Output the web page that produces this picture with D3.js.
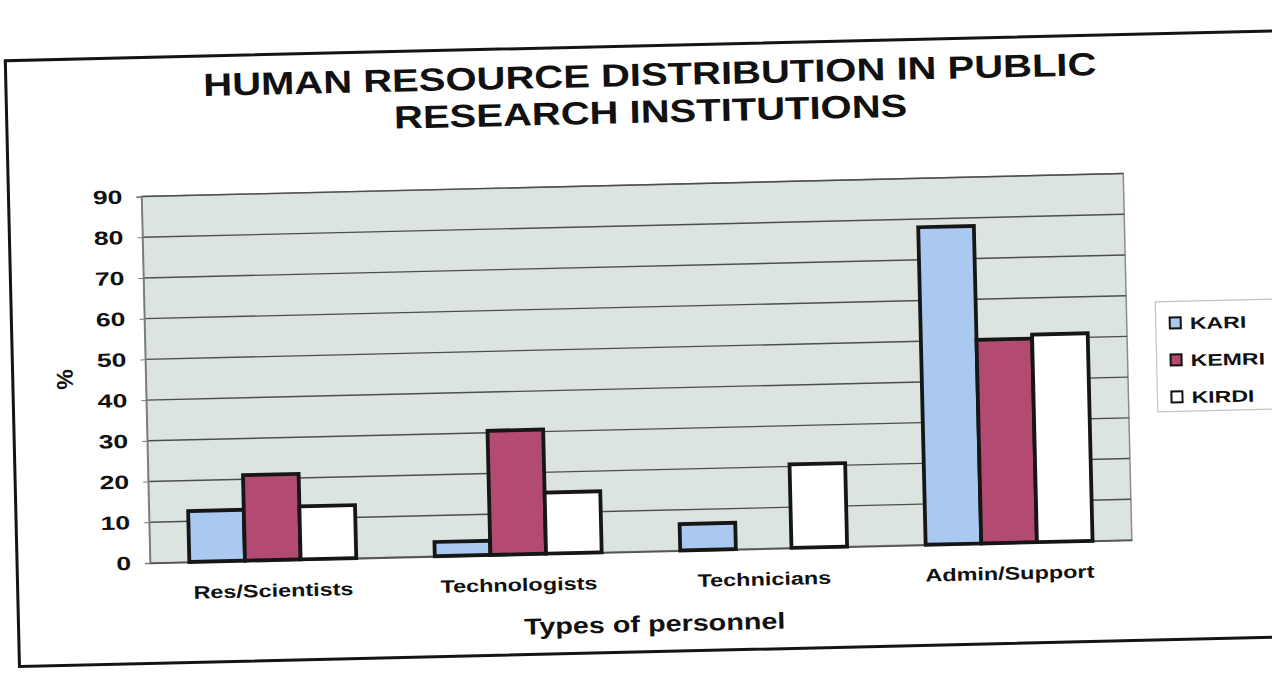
<!DOCTYPE html>
<html>
<head>
<meta charset="utf-8">
<script src="https://cdn.jsdelivr.net/npm/d3@7"></script>
<style>
  html, body { margin: 0; padding: 0; background: #ffffff; }
  svg { display: block; }
  text { font-family: "Liberation Sans", Arial, sans-serif; font-weight: bold; fill: #111; }
</style>
</head>
<body>
<svg id="chart" width="1272" height="680"></svg>
<script>
// Staff shares (%) by personnel type for each institution
const categories = ["Res/Scientists", "Technologists", "Technicians", "Admin/Support"];
const seriesNames = ["KARI", "KEMRI", "KIRDI"];
const kari  = [12.5, 3.5, 6.5, 78];
const kemri = [21, 30.5, 0, 50];
const kirdi = [13, 15, 20.5, 51];
const yTicks = [0, 10, 20, 30, 40, 50, 60, 70, 80, 90];
const seriesColors = ["#a9c9f0", "#b24a72", "#ffffff"];

const titleLines = ["HUMAN RESOURCE DISTRIBUTION IN PUBLIC", "RESEARCH INSTITUTIONS"];
const xTitle = "Types of personnel";
const yTitle = "%";

const seriesValues = [kari, kemri, kirdi];

const W = 1272, H = 680;
const plot = { left: 145, right: 1127, top: 185, bottom: 551.5 };

const svg = d3.select("#chart");

// widen glyphs horizontally, keeping the anchor
function stretch(sel, k) {
  sel.each(function () {
    const w = this.getComputedTextLength();
    this.setAttribute("textLength", w * k);
    this.setAttribute("lengthAdjust", "spacingAndGlyphs");
  });
}

// the whole sheet sits at a slight tilt
const root = svg.append("g").attr("transform", "rotate(-1.34, 636, 340)");

// outer frame
root.append("rect")
  .attr("x", 12).attr("y", 46)
  .attr("width", 1320).attr("height", 606)
  .attr("fill", "#ffffff")
  .attr("stroke", "#141414").attr("stroke-width", 3);

// title
const title = root.append("g").selectAll("text")
  .data(titleLines).join("text")
  .attr("x", 656)
  .attr("y", (d, i) => 86 + i * 37)
  .attr("text-anchor", "middle")
  .style("font-size", "32px")
  .text(d => d);
stretch(title, 1.25);

// scales
const x0 = d3.scaleBand().domain(categories)
  .range([plot.left, plot.right]).paddingInner(0.32).paddingOuter(0.16);
const x1 = d3.scaleBand().domain(seriesNames).range([0, x0.bandwidth()]);
const y = d3.scaleLinear().domain([0, 90]).range([plot.bottom, plot.top]);
const color = d3.scaleOrdinal().domain(seriesNames).range(seriesColors);

// plot area
root.append("rect")
  .attr("x", plot.left).attr("y", plot.top)
  .attr("width", plot.right - plot.left).attr("height", plot.bottom - plot.top)
  .attr("fill", "#dce4df")
  .attr("stroke", "#8c8c8c").attr("stroke-width", 1.5);

// horizontal gridlines
root.append("g").selectAll("line")
  .data(yTicks.filter(t => t > 0)).join("line")
  .attr("x1", plot.left).attr("x2", plot.right)
  .attr("y1", d => y(d)).attr("y2", d => y(d))
  .attr("stroke", "#4d4d4d").attr("stroke-width", 1.4);

// y axis
const yAxis = root.append("g")
  .attr("transform", `translate(${plot.left},0)`)
  .call(d3.axisLeft(y).tickValues(yTicks).tickSize(5).tickPadding(14));
yAxis.select(".domain").attr("stroke", "#7a7a7a").attr("stroke-width", 1.5);
yAxis.selectAll(".tick line").attr("stroke", "#7a7a7a");
yAxis.selectAll(".tick text")
  .style("font-size", "19px")
  .style("font-family", "'Liberation Sans', Arial, sans-serif")
  .style("font-weight", "bold").attr("fill", "#111");
stretch(yAxis.selectAll(".tick text"), 1.4);

// x axis baseline and category labels
const xAxis = root.append("g")
  .attr("transform", `translate(0,${plot.bottom})`)
  .call(d3.axisBottom(x0).tickSize(0).tickPadding(24));
xAxis.select(".domain").attr("stroke", "#555").attr("stroke-width", 1.8);
xAxis.selectAll(".tick text")
  .style("font-size", "18px")
  .style("font-family", "'Liberation Sans', Arial, sans-serif")
  .style("font-weight", "bold").attr("fill", "#111");
stretch(xAxis.selectAll(".tick text"), 1.3);

// bars
const groups = root.append("g").selectAll("g")
  .data(categories).join("g")
  .attr("transform", d => `translate(${x0(d)},0)`);
groups.selectAll("rect")
  .data((c, ci) => seriesNames.map((s, si) => ({ s, v: seriesValues[si][ci] })).filter(d => d.v > 0))
  .join("rect")
  .attr("x", d => x1(d.s))
  .attr("width", x1.bandwidth())
  .attr("y", d => y(d.v))
  .attr("height", d => y(0) - y(d.v))
  .attr("fill", d => color(d.s))
  .attr("stroke", "#161616").attr("stroke-width", 3.8);

// axis titles
const xt = root.append("text")
  .attr("x", (plot.left + plot.right) / 2 + 12)
  .attr("y", 632)
  .attr("text-anchor", "middle")
  .style("font-size", "23px")
  .text(xTitle);
stretch(xt, 1.25);

root.append("text")
  .attr("transform", "translate(72,366) rotate(-90)")
  .attr("text-anchor", "middle")
  .style("font-size", "23px")
  .text(yTitle);

// legend
const legend = root.append("g").attr("transform", "translate(1156,314)");
legend.append("rect")
  .attr("width", 140).attr("height", 110)
  .attr("fill", "#ffffff")
  .attr("stroke", "#c4c4c4").attr("stroke-width", 1.2);
const items = legend.selectAll("g.item")
  .data(seriesNames).join("g")
  .attr("class", "item")
  .attr("transform", (d, i) => `translate(14,${22 + i * 37})`);
items.append("rect")
  .attr("x", 0).attr("y", -6).attr("width", 11).attr("height", 11)
  .attr("fill", d => color(d))
  .attr("stroke", "#111").attr("stroke-width", 2);
const legendText = items.append("text")
  .attr("x", 20).attr("y", 6)
  .style("font-size", "16.5px")
  .text(d => d);
stretch(legendText, 1.4);
</script>
</body>
</html>
